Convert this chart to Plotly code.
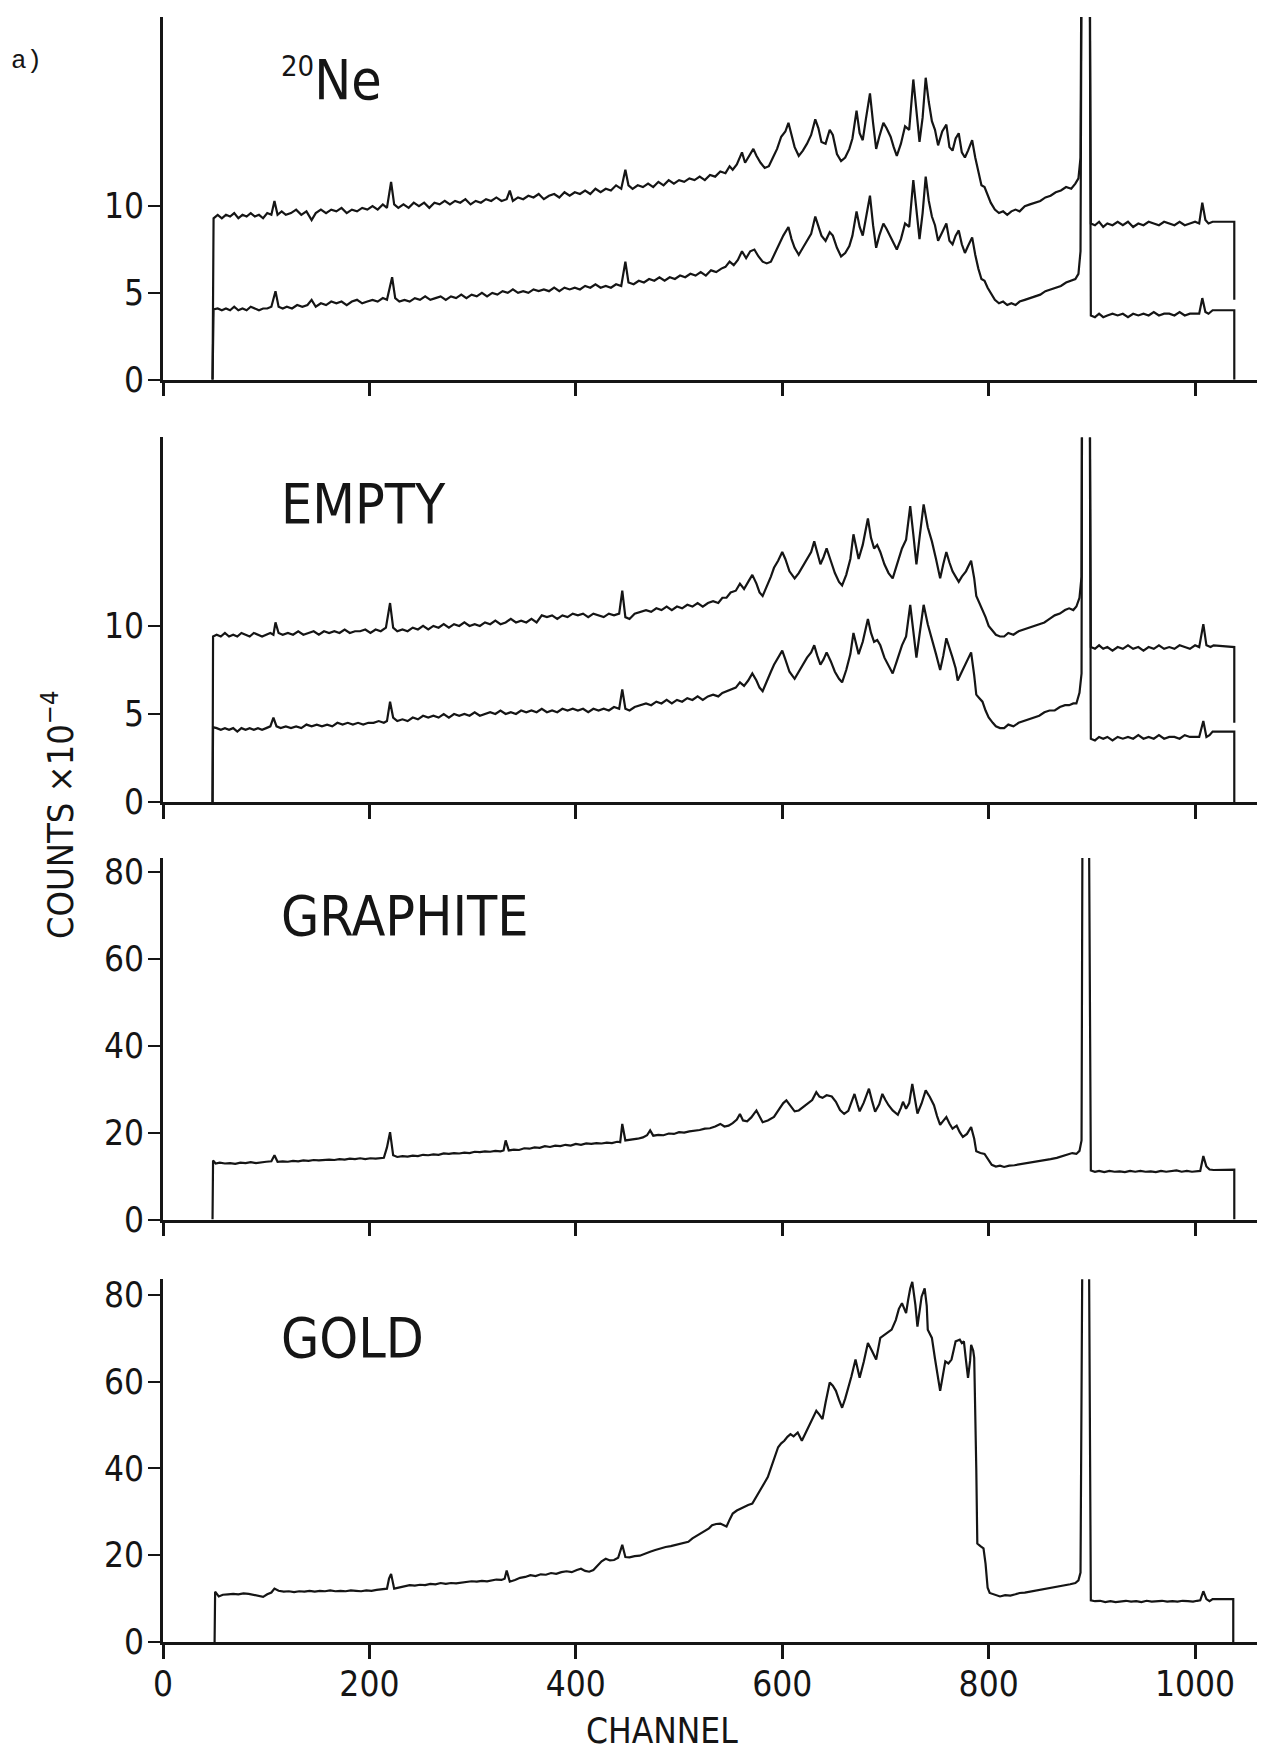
import plotly.graph_objects as go

# ---------------- data (channel, counts x 1e-4) ----------------
NE_UPPER = [
(48,0),(49,9.3),(53,9.5),(57,9.3),(61,9.5),(65,9.4),(69,9.6),(73,9.3),(77,9.5),(81,9.4),(85,9.6),(89,9.4),
(93,9.5),(97,9.3),(101,9.6),(105,9.5),(108,10.3),(111,9.5),(115,9.7),(119,9.5),(124,9.6),(129,9.8),(134,9.5),
(139,9.7),(144,9.2),(148,9.6),(153,9.8),(158,9.6),(163,9.8),(168,9.7),(173,9.9),(178,9.6),(183,9.8),(188,9.7),
(193,9.9),(198,9.8),(203,10.0),(208,9.8),(213,10.1),(217,9.9),(221,11.4),(224,10.1),(228,9.9),(233,10.1),
(238,9.9),(243,10.2),(248,10.0),(253,10.2),(258,9.9),(263,10.2),(268,10.1),(273,10.3),(278,10.1),(283,10.3),
(288,10.2),(293,10.4),(298,10.1),(303,10.3),(308,10.2),(313,10.4),(318,10.3),(323,10.5),(328,10.3),(333,10.4),
(336,10.9),(339,10.3),(344,10.5),(349,10.4),(354,10.6),(359,10.5),(364,10.7),(369,10.4),(374,10.6),(379,10.7),
(384,10.5),(389,10.8),(394,10.6),(399,10.8),(404,10.7),(409,10.9),(414,10.7),(419,11.0),(424,10.8),(429,11.0),
(434,10.9),(439,11.2),(444,11.0),(448,12.1),(451,11.2),(455,11.0),(460,11.2),(465,11.1),(470,11.3),(475,11.1),
(480,11.4),(485,11.2),(490,11.5),(495,11.3),(500,11.5),(505,11.4),(510,11.6),(515,11.5),(520,11.7),(525,11.5),
(530,11.8),(535,11.7),(540,12.0),(545,11.9),(549,12.3),(552,12.1),(556,12.4),(561,13.1),(564,12.5),(568,12.9),
(572,13.3),(575,12.9),(579,12.5),(583,12.2),(587,12.3),(591,12.8),(595,13.3),(599,14.0),(603,14.3),(606,14.8),
(609,14.1),(612,13.4),(616,12.9),(620,13.2),(624,13.6),(628,14.1),(632,15.0),(635,14.5),(638,13.7),(642,13.6),
(646,14.4),(649,14.1),(653,13.0),(657,12.6),(661,12.8),(665,13.3),(668,13.9),(672,15.5),(675,14.2),(678,13.8),
(681,15.0),(685,16.5),(688,14.8),(691,13.3),(694,14.0),(698,14.8),(701,14.5),(705,14.0),(708,13.4),(711,12.9),
(715,13.6),(719,14.6),(723,14.4),(727,17.3),(730,15.5),(733,13.7),(736,15.1),(739,17.4),(742,16.0),(745,14.9),
(748,14.4),(751,13.5),(755,14.3),(759,14.7),(762,13.4),(765,13.2),(768,13.9),(771,14.2),(774,13.1),(777,12.8),
(780,13.2),(784,13.8),(787,12.8),(790,12.0),(793,11.2),(796,11.1),(799,10.6),(802,10.2),(806,9.8),(810,9.6),
(814,9.7),(818,9.5),(822,9.7),(826,9.8),(830,9.7),(835,10.0),(840,10.1),(845,10.2),(850,10.3),(855,10.5),
(860,10.6),(865,10.8),(870,10.9),(875,11.1),(880,11.0),(884,11.3),(887,11.6),(889,12.8),(891,40),(897,40),
(899,9.0),(903,8.9),(907,9.1),(911,8.8),(915,9.0),(920,8.9),(925,9.1),(930,8.9),(935,9.1),(940,8.8),(945,9.0),
(950,8.9),(955,9.1),(960,9.0),(965,8.9),(970,9.1),(975,9.0),(980,8.9),(985,9.1),(990,8.9),(995,9.0),(1000,9.1),
(1004,9.0),(1007,10.2),(1010,9.2),(1013,9.0),(1017,9.1),(1038,9.1),(1038,4.6)]

NE_LOWER = [
(48,0),(49,4.05),(53,4.1),(57,4.0),(61,4.1),(65,4.0),(69,4.2),(73,4.0),(77,4.1),(81,4.0),(85,4.2),(89,4.1),
(93,4.0),(97,4.1),(101,4.1),(105,4.2),(109,5.1),(112,4.2),(116,4.1),(120,4.2),(125,4.1),(130,4.3),(135,4.2),
(140,4.3),(144,4.6),(148,4.2),(153,4.4),(158,4.3),(163,4.5),(168,4.4),(173,4.5),(178,4.3),(183,4.5),(188,4.6),
(193,4.4),(198,4.5),(203,4.6),(208,4.5),(213,4.7),(217,4.6),(222,5.9),(225,4.7),(229,4.5),(234,4.6),(239,4.5),
(244,4.7),(249,4.6),(254,4.8),(259,4.6),(264,4.7),(269,4.8),(274,4.6),(279,4.8),(284,4.7),(289,4.9),(294,4.7),
(299,4.9),(304,4.8),(309,5.0),(314,4.8),(319,5.0),(324,4.9),(329,5.1),(334,5.0),(339,5.2),(344,5.0),(349,5.1),
(354,5.0),(359,5.2),(364,5.1),(369,5.2),(374,5.1),(379,5.3),(384,5.1),(389,5.3),(394,5.2),(399,5.3),(404,5.2),
(409,5.4),(414,5.3),(419,5.5),(424,5.3),(429,5.4),(434,5.3),(439,5.5),(444,5.4),(448,6.8),(451,5.6),(456,5.5),
(461,5.7),(466,5.6),(471,5.8),(476,5.7),(481,5.9),(486,5.7),(491,5.9),(496,5.8),(501,6.0),(506,5.9),(511,6.1),
(516,6.0),(521,6.2),(526,6.0),(531,6.3),(536,6.2),(541,6.4),(545,6.5),(549,6.8),(553,6.6),(557,6.9),(561,7.4),
(565,7.0),(569,7.4),(573,7.5),(577,7.1),(581,6.8),(585,6.7),(589,6.8),(593,7.3),(597,7.9),(601,8.3),(606,8.8),
(609,8.1),(612,7.6),(616,7.2),(620,7.6),(624,8.0),(628,8.4),(632,9.4),(635,8.9),(638,8.3),(642,8.0),(646,8.5),
(649,8.3),(653,7.6),(657,7.1),(661,7.3),(665,7.7),(668,8.3),(672,9.7),(675,8.8),(678,8.3),(681,9.3),(685,10.6),
(688,8.9),(691,7.6),(694,8.3),(698,9.0),(701,8.7),(705,8.2),(708,7.8),(711,7.5),(715,8.1),(719,9.0),(723,8.8),
(727,11.5),(730,9.8),(733,8.1),(736,9.6),(739,11.7),(742,10.3),(745,9.4),(748,8.9),(751,8.0),(755,8.5),(759,9.0),
(762,8.0),(765,7.8),(768,8.3),(771,8.6),(774,7.8),(777,7.3),(780,7.7),(784,8.2),(787,7.2),(790,6.4),(793,5.8),
(796,5.7),(799,5.3),(802,5.0),(806,4.6),(810,4.4),(814,4.5),(818,4.3),(822,4.4),(826,4.3),(830,4.5),(835,4.6),
(840,4.7),(845,4.8),(850,4.9),(855,5.1),(860,5.2),(865,5.3),(870,5.4),(875,5.6),(880,5.7),(884,5.8),(887,6.1),
(889,7.4),(891,40),(897,40),(899,3.7),(903,3.6),(907,3.8),(911,3.6),(915,3.7),(920,3.8),(925,3.7),(930,3.8),
(935,3.6),(940,3.8),(945,3.7),(950,3.8),(955,3.7),(960,3.9),(965,3.7),(970,3.8),(975,3.8),(980,3.7),(985,3.9),
(990,3.7),(995,3.8),(1000,3.8),(1004,3.8),(1007,4.7),(1010,3.9),(1013,3.8),(1017,4.0),(1038,4.0),(1038,0)]

EMPTY_UPPER = [
(48,0),(48.5,9.4),(52,9.5),(56,9.4),(60,9.6),(64,9.4),(68,9.5),(72,9.4),(76,9.6),(80,9.5),(84,9.4),(88,9.6),
(92,9.5),(96,9.4),(100,9.5),(104,9.6),(107,9.5),(109,10.2),(112,9.6),(116,9.5),(121,9.6),(126,9.5),(131,9.7),
(136,9.5),(141,9.6),(146,9.7),(151,9.5),(156,9.7),(161,9.6),(166,9.7),(171,9.6),(176,9.8),(181,9.6),(186,9.7),
(191,9.7),(196,9.8),(201,9.6),(206,9.8),(211,9.7),(216,9.9),(220,11.3),(223,9.9),(227,9.7),(232,9.8),(237,9.7),
(242,9.9),(247,9.8),(252,10.0),(257,9.8),(262,10.0),(267,9.9),(272,10.1),(277,9.9),(282,10.1),(287,10.0),
(292,10.2),(297,10.0),(302,10.1),(307,10.0),(312,10.2),(317,10.1),(322,10.3),(327,10.1),(332,10.2),(337,10.4),
(342,10.2),(347,10.3),(352,10.2),(357,10.4),(362,10.2),(367,10.6),(372,10.5),(377,10.6),(382,10.4),(387,10.6),
(392,10.5),(397,10.7),(402,10.6),(407,10.7),(412,10.5),(417,10.7),(422,10.6),(427,10.5),(432,10.7),(437,10.6),
(442,10.7),(445,12.0),(448,10.5),(452,10.4),(457,10.7),(463,10.8),(468,10.9),(473,10.8),(478,11.0),(483,10.9),
(488,11.1),(493,10.9),(498,11.1),(503,11.0),(508,11.2),(513,11.1),(518,11.3),(523,11.1),(528,11.3),(533,11.4),
(538,11.3),(542,11.6),(546,11.6),(550,11.9),(555,12.0),(559,12.4),(563,12.1),(567,12.5),(571,12.9),(575,12.4),
(578,11.9),(581,11.7),(585,12.2),(589,12.8),(592,13.3),(596,13.7),(600,14.2),(603,13.8),(607,13.1),(612,12.7),
(616,13.0),(620,13.4),(624,13.8),(628,14.2),(631,14.8),(634,14.1),(637,13.5),(640,13.9),(643,14.4),(647,13.7),
(651,13.0),(655,12.5),(658,12.3),(662,12.9),(666,13.8),(669,15.2),(672,14.3),(674,13.8),(678,14.6),(681,15.6),
(683,16.1),(686,15.0),(689,14.4),(692,14.6),(695,14.2),(699,13.5),(703,13.0),(707,12.7),(711,13.5),(716,14.4),
(720,14.9),(724,16.8),(727,15.2),(730,13.5),(733,15.0),(737,16.9),(741,15.6),(745,14.8),(749,13.8),(753,12.7),
(756,13.5),(759,14.2),(762,13.6),(765,13.1),(768,12.8),(771,12.5),(774,12.8),(778,13.1),(783,13.7),(786,12.7),
(788,11.7),(791,11.3),(794,11.0),(797,10.5),(800,10.0),(804,9.7),(807,9.5),(811,9.4),(815,9.4),(819,9.6),
(824,9.5),(829,9.7),(834,9.8),(839,9.9),(844,10.0),(849,10.1),(854,10.2),(859,10.4),(864,10.6),(869,10.7),
(874,10.9),(878,11.0),(882,10.9),(885,11.1),(888,11.6),(890,12.8),(891,40),(897,40),(899,8.8),(903,8.7),
(907,8.9),(911,8.7),(915,8.8),(920,8.6),(925,8.8),(930,8.7),(935,8.9),(940,8.7),(945,8.8),(950,8.6),(955,8.8),
(960,8.7),(965,8.9),(970,8.7),(975,8.8),(980,8.7),(985,8.9),(990,8.8),(995,8.7),(1000,8.9),(1004,8.8),
(1008,10.1),(1011,8.9),(1015,8.8),(1018,8.9),(1038,8.8),(1038,4.5)]

EMPTY_LOWER = [
(48,0),(48.5,4.25),(52,4.2),(56,4.1),(60,4.2),(64,4.1),(68,4.2),(72,4.0),(76,4.2),(80,4.1),(84,4.2),(88,4.1),
(92,4.2),(96,4.1),(100,4.2),(104,4.3),(107,4.8),(110,4.3),(114,4.2),(119,4.3),(124,4.2),(129,4.3),(134,4.2),
(139,4.4),(144,4.3),(149,4.4),(154,4.3),(159,4.4),(164,4.3),(169,4.5),(174,4.4),(179,4.5),(184,4.4),(189,4.5),
(194,4.4),(199,4.5),(204,4.5),(209,4.6),(214,4.5),(217,4.6),(220,5.7),(223,4.8),(227,4.6),(232,4.7),(237,4.6),
(242,4.8),(247,4.7),(252,4.9),(257,4.8),(262,4.9),(267,4.8),(272,5.0),(277,4.8),(282,5.0),(287,4.9),(292,5.0),
(297,4.9),(302,5.1),(307,4.9),(312,5.0),(317,5.1),(322,5.0),(327,5.2),(332,5.0),(337,5.1),(342,5.0),(347,5.2),
(352,5.1),(357,5.2),(362,5.1),(367,5.3),(372,5.1),(377,5.2),(382,5.1),(387,5.3),(392,5.2),(397,5.3),(402,5.2),
(407,5.3),(412,5.1),(417,5.3),(422,5.2),(427,5.3),(432,5.2),(437,5.4),(442,5.3),(445,6.4),(448,5.3),(452,5.2),
(457,5.4),(463,5.5),(468,5.6),(473,5.5),(478,5.7),(483,5.6),(488,5.8),(493,5.6),(498,5.8),(503,5.7),(508,5.9),
(513,5.8),(518,6.0),(523,5.8),(528,6.0),(533,6.1),(538,6.0),(542,6.2),(546,6.3),(550,6.4),(555,6.5),(559,6.8),
(563,6.6),(567,6.9),(571,7.3),(575,6.9),(578,6.5),(581,6.3),(585,6.8),(589,7.4),(592,7.8),(596,8.2),(600,8.6),
(603,8.1),(607,7.4),(612,7.0),(616,7.4),(620,7.8),(624,8.2),(628,8.5),(631,8.9),(634,8.3),(637,7.8),(640,8.1),
(643,8.5),(647,8.0),(651,7.4),(655,7.0),(658,6.8),(662,7.5),(666,8.4),(669,9.6),(672,8.8),(674,8.4),(678,9.1),
(681,9.9),(683,10.4),(686,9.6),(689,9.1),(692,9.2),(695,8.9),(699,8.2),(703,7.7),(707,7.3),(711,8.0),(716,8.9),
(720,9.4),(724,11.2),(727,9.7),(730,8.2),(733,9.5),(737,11.2),(741,10.1),(745,9.3),(749,8.4),(753,7.5),
(756,8.3),(759,9.3),(762,8.8),(765,8.2),(768,7.6),(770,6.9),(774,7.4),(778,7.9),(783,8.5),(786,7.2),(788,6.1),
(791,5.9),(794,5.7),(797,5.2),(800,4.8),(804,4.5),(807,4.3),(811,4.2),(815,4.2),(819,4.4),(824,4.3),(829,4.5),
(834,4.6),(839,4.7),(844,4.8),(849,4.9),(854,5.1),(859,5.2),(864,5.2),(869,5.4),(874,5.5),(878,5.5),(882,5.6),
(885,5.6),(888,6.2),(890,7.3),(891,40),(897,40),(899,3.6),(903,3.5),(907,3.7),(911,3.6),(915,3.7),(920,3.5),
(925,3.7),(930,3.6),(935,3.7),(940,3.6),(945,3.8),(950,3.6),(955,3.7),(960,3.6),(965,3.8),(970,3.6),(975,3.7),
(980,3.7),(985,3.6),(990,3.8),(995,3.7),(1000,3.7),(1004,3.7),(1008,4.6),(1011,3.7),(1014,3.8),(1017,4.0),
(1038,4.0),(1038,0)]

GRAPHITE = [
(48,0),(48.5,13.6),(51,12.9),(55,13.1),(60,12.9),(65,13.0),(70,12.8),(75,13.1),(80,13.0),(85,13.2),(90,13.0),
(95,13.2),(100,13.3),(105,13.4),(108,14.8),(111,13.3),(116,13.4),(121,13.3),(126,13.5),(131,13.4),(136,13.6),
(141,13.5),(146,13.7),(151,13.6),(156,13.7),(161,13.8),(166,13.7),(171,13.9),(176,13.8),(181,14.0),(186,13.9),
(191,14.1),(196,13.9),(201,14.1),(206,14.0),(211,14.2),(214,14.2),(217,16.6),(220,20.1),(223,14.8),(227,14.4),
(232,14.6),(237,14.5),(242,14.7),(247,14.6),(252,14.9),(257,14.8),(262,15.0),(267,14.9),(272,15.2),(277,15.1),
(282,15.3),(287,15.2),(292,15.4),(297,15.3),(302,15.6),(307,15.5),(312,15.7),(317,15.6),(322,15.8),(327,15.7),
(330,15.9),(332,18.2),(335,15.9),(340,16.1),(345,16.0),(350,16.4),(355,16.3),(360,16.6),(365,16.5),(370,16.9),
(375,16.7),(380,17.0),(385,16.9),(390,17.2),(395,17.0),(400,17.4),(405,17.2),(410,17.5),(415,17.4),(420,17.6),
(425,17.5),(430,17.7),(435,17.6),(440,17.9),(443,17.8),(445,22.0),(448,18.2),(452,18.3),(456,18.5),(460,18.6),
(465,18.9),(469,19.4),(472,20.5),(475,19.3),(480,19.5),(485,19.4),(490,19.8),(495,19.7),(500,20.1),(505,20.0),
(510,20.3),(515,20.4),(520,20.6),(525,20.9),(530,21.0),(535,21.4),(540,22.0),(544,21.4),(548,21.6),(552,22.2),
(556,23.0),(559,24.3),(562,22.8),(566,22.6),(570,23.5),(575,25.1),(578,23.6),(581,22.4),(586,22.8),(592,23.6),
(597,25.4),(601,26.8),(604,27.4),(608,26.0),(612,24.9),(616,25.1),(620,25.8),(625,26.6),(629,27.5),(633,29.3),
(636,28.3),(639,28.0),(643,28.6),(648,28.3),(652,27.1),(656,25.2),(660,24.3),(664,25.0),(667,26.8),(670,28.9),
(673,26.4),(675,24.9),(679,26.9),(684,30.1),(687,27.3),(690,24.8),(694,26.5),(697,28.9),(700,27.5),(703,26.3),
(707,25.1),(712,24.1),(715,25.7),(717,27.1),(720,25.5),(723,26.8),(726,31.2),(729,27.2),(731,24.4),(735,26.7),
(739,29.7),(743,28.2),(747,26.3),(750,23.8),(753,21.8),(756,22.7),(759,23.6),(762,22.1),(765,20.9),(769,21.6),
(772,20.1),(775,19.0),(779,19.7),(783,21.3),(786,18.6),(788,15.7),(792,15.3),(796,15.1),(799,13.9),(803,12.6),
(807,12.2),(811,12.4),(815,12.1),(820,12.4),(825,12.5),(830,12.7),(836,12.9),(842,13.1),(848,13.3),(854,13.5),
(860,13.9),(866,14.2),(872,14.6),(877,15.1),(881,15.3),(885,15.1),(888,15.8),(890,18.2),(891,100),(897,100),
(899,11.3),(903,11.0),(907,11.2),(912,10.9),(917,11.2),(922,11.0),(927,11.1),(932,10.9),(937,11.2),(942,11.0),
(947,11.2),(952,11.0),(957,11.1),(962,10.9),(967,11.2),(972,11.0),(977,11.1),(982,11.3),(987,11.0),(992,11.2),
(997,11.0),(1002,11.1),(1005,11.2),(1008,14.6),(1011,12.2),(1014,11.5),(1018,11.4),(1038,11.5),(1038,0)]

GOLD = [
(50,0),(50.5,11.6),(54,10.5),(58,10.9),(63,11.0),(68,11.1),(73,11.0),(78,11.2),(83,11.1),(88,10.9),(93,10.6),
(97,10.4),(101,11.0),(105,11.4),(108,12.3),(112,11.8),(117,11.6),(122,11.7),(127,11.5),(132,11.7),(137,11.6),
(142,11.8),(147,11.6),(152,11.8),(157,11.7),(162,11.9),(167,11.7),(172,11.8),(177,11.7),(182,11.9),(187,11.8),
(192,11.7),(197,11.9),(202,11.8),(207,12.0),(212,12.1),(217,12.3),(219,14.6),(221,15.7),(224,12.3),(229,12.6),
(234,12.9),(239,13.1),(244,13.0),(249,13.2),(254,13.1),(259,13.4),(264,13.3),(269,13.6),(274,13.4),(279,13.6),
(284,13.5),(289,13.7),(294,13.8),(299,14.0),(304,13.9),(309,14.1),(314,14.0),(318,14.2),(323,14.4),(328,14.3),
(331,14.6),(333,16.5),(336,13.9),(341,14.3),(346,14.8),(351,15.0),(356,15.4),(361,15.2),(366,15.6),(371,15.5),
(376,15.9),(381,15.7),(386,16.1),(391,16.3),(396,16.1),(401,16.6),(405,16.9),(409,16.4),(413,16.2),(417,16.6),
(421,17.5),(425,18.6),(429,19.2),(433,18.8),(437,18.9),(441,19.4),(445,22.4),(448,19.6),(452,19.5),(457,19.8),
(462,19.9),(467,20.4),(472,20.8),(477,21.2),(482,21.6),(487,21.9),(492,22.1),(497,22.4),(501,22.6),(505,22.9),
(509,23.1),(513,23.9),(517,24.5),(521,25.0),(525,25.6),(529,26.2),(532,26.9),(536,27.2),(540,27.3),(543,26.9),
(546,26.6),(549,28.2),(552,29.6),(556,30.3),(560,30.8),(563,31.1),(567,31.6),(571,31.9),(575,33.6),(579,35.3),
(583,36.9),(586,38.0),(589,40.1),(592,42.3),(596,44.9),(599,45.8),(602,46.4),(605,47.3),(608,47.9),(611,47.4),
(615,48.3),(619,46.4),(622,47.9),(625,49.1),(629,51.2),(633,53.3),(636,52.4),(639,51.4),(642,55.2),(646,59.8),
(649,59.1),(652,57.9),(655,55.8),(658,54.0),(661,56.1),(664,58.6),(667,61.2),(671,65.1),(673,62.8),(675,60.9),
(679,64.6),(683,68.9),(687,67.1),(691,65.1),(695,70.1),(699,70.8),(703,71.6),(706,72.0),(710,74.2),(713,76.8),
(716,78.1),(718,76.9),(720,75.8),(722,78.9),(724,81.5),(726,83.0),(728,79.6),(729,77.7),(731,72.7),(733,76.1),
(735,79.6),(738,81.5),(740,77.5),(741,72.0),(743,71.2),(745,70.1),(748,65.3),(751,60.5),(753,57.9),(755,60.6),
(758,64.7),(761,64.2),(764,65.1),(766,67.2),(768,69.3),(770,69.5),(772,69.7),(774,68.9),(776,69.3),(778,65.0),
(780,60.9),(782,64.8),(783,68.5),(785,67.2),(786,65.5),(788,40.0),(789,22.7),(792,22.1),(795,21.6),(797,18.0),
(799,12.5),(801,11.3),(806,10.9),(811,10.5),(816,10.8),(821,10.7),(826,11.0),(830,11.3),(835,11.4),(840,11.6),
(845,11.9),(849,12.1),(854,12.2),(859,12.5),(864,12.6),(869,12.8),(874,13.1),(879,13.3),(884,13.6),(887,14.2),
(889,16.0),(891,100),(897,100),(899,9.6),(903,9.4),(908,9.5),(913,9.2),(918,9.4),(923,9.2),(928,9.3),(933,9.5),
(938,9.3),(943,9.4),(948,9.2),(953,9.5),(958,9.3),(963,9.4),(968,9.5),(973,9.3),(978,9.4),(983,9.3),(988,9.5),
(993,9.4),(998,9.3),(1002,9.5),(1005,9.6),(1008,11.7),(1011,9.9),(1014,9.4),(1017,9.9),(1037,9.9),(1037,0)]

PANEL_LABELS = ['<sup><span style="font-size:29px">20</span></sup>Ne', "EMPTY", "GRAPHITE", "GOLD"]
X_TICKS = [0, 200, 400, 600, 800, 1000]
Y_TICKS_SMALL = [0, 5, 10]
Y_TICKS_LARGE = [0, 20, 40, 60, 80]
Y_TOPS = [20.9, 20.7, 83.2, 83.6]
X_TITLE = "CHANNEL"
Y_TITLE = "COUNTS \u00d710<sup>\u22124</sup>"

# ---------------- layout geometry (pixels) ----------------
W, H = 1268, 1751
L, R, T, B = 163, 11, 11, 109
PW, PH = W - L - R, H - T - B

def py(y):  # page pixel y -> paper fraction
    return (H - B - y) / PH

def px(x):
    return (x - L) / PW

panel_px = [(11, 375), (433, 799), (855, 1218), (1278, 1642)]
domains = [[py(b), py(t)] for t, b in panel_px]

FONT = "DejaVu Sans Condensed, Liberation Sans Narrow, DejaVu Sans, sans-serif"
INK = "#151515"

panels = [[NE_UPPER, NE_LOWER], [EMPTY_UPPER, EMPTY_LOWER], [GRAPHITE], [GOLD]]

fig = go.Figure()
for i, traces in enumerate(panels):
    suffix = "" if i == 0 else str(i + 1)
    for tr in traces:
        xs = [p[0] for p in tr]
        ys = [p[1] for p in tr]
        fig.add_trace(go.Scatter(x=xs, y=ys, mode="lines", xaxis="x" + suffix, yaxis="y" + suffix,
                                 line=dict(color=INK, width=2.2), showlegend=False, hoverinfo="skip"))

layout = dict(width=W, height=H, margin=dict(l=L, r=R, t=T, b=B),
              paper_bgcolor="white", plot_bgcolor="white", showlegend=False,
              font=dict(family=FONT, color=INK))
for i in range(4):
    suffix = "" if i == 0 else str(i + 1)
    bottom = (i == 3)
    layout["xaxis" + suffix] = dict(
        domain=[0, 1], anchor="y" + suffix, range=[0, 1060], showgrid=False, zeroline=False,
        showline=True, linecolor=INK, linewidth=2.5, ticks="outside", ticklen=14, tickwidth=2.5,
        tickcolor=INK, tickvals=X_TICKS, showticklabels=bottom, ticklabelstandoff=-5,
        tickfont=dict(family=FONT, size=35, color=INK))
    layout["yaxis" + suffix] = dict(
        domain=domains[i], anchor="x" + suffix, range=[0, Y_TOPS[i]], showgrid=False, zeroline=False,
        showline=True, linecolor=INK, linewidth=3, ticks="outside", ticklen=12, tickwidth=2,
        tickcolor=INK, tickvals=Y_TICKS_SMALL if i < 2 else Y_TICKS_LARGE, ticklabelstandoff=-3,
        tickfont=dict(family=FONT, size=35, color=INK))
fig.update_layout(**layout)

# panel labels
label_centers = [74, 500, 913, 1337]
for i, lab in enumerate(PANEL_LABELS):
    fig.add_annotation(x=px(279), y=py(label_centers[i]), xref="paper", yref="paper",
                       text=lab, showarrow=False, xanchor="left", yanchor="middle",
                       font=dict(family=FONT, size=55, color=INK))

fig.add_annotation(x=px(662), y=py(1731), xref="paper", yref="paper", text=X_TITLE, showarrow=False,
                   xanchor="center", yanchor="middle", font=dict(family=FONT, size=35, color=INK))
fig.add_annotation(x=px(58), y=py(812), xref="paper", yref="paper", text=Y_TITLE, showarrow=False,
                   textangle=-90, xanchor="center", yanchor="middle",
                   font=dict(family=FONT, size=36, color=INK))
fig.add_annotation(x=px(9), y=py(55), xref="paper", yref="paper", text="a)", showarrow=False,
                   xanchor="left", yanchor="middle",
                   font=dict(family="Liberation Mono, DejaVu Sans Mono, monospace", size=26, color=INK))

fig.write_html("out.html")
